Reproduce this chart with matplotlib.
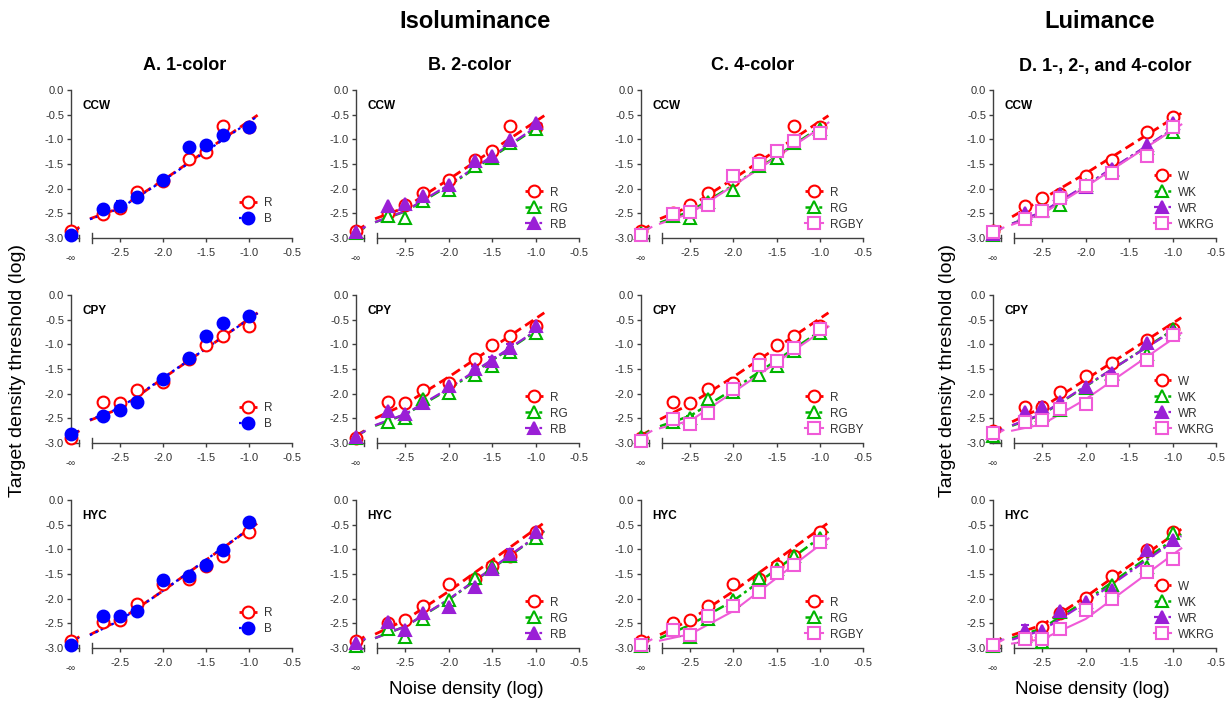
import numpy as np
import matplotlib
matplotlib.use("Agg")
import matplotlib.pyplot as plt

plt.rcParams['font.family'] = ['Liberation Sans', 'DejaVu Sans']

# ---------------- data ----------------
noise_abc = [-np.inf, -2.7, -2.5, -2.3, -2.0, -1.7, -1.5, -1.3, -1.0]
noise_d = [-np.inf, -2.7, -2.5, -2.3, -2.0, -1.7, -1.3, -1.0]
fit_noise = [-np.inf, -2.85, -2.5, -2.0, -0.9]
observers = ['CCW', 'CPY', 'HYC']

# Column A: 1-color
A_ccw_R = [-2.86, -2.52, -2.39, -2.07, -1.84, -1.40, -1.26, -0.73, -0.75]
A_ccw_R_err = [0, 0.03, 0.06, 0.03, 0.03, 0, 0.04, 0, 0.04]
A_ccw_B = [-2.94, -2.42, -2.35, -2.17, -1.82, -1.16, -1.11, -0.91, -0.75]
A_ccw_B_err = [0, 0.08, 0.10, 0.05, 0, 0, 0, 0, 0.05]
A_ccw_R_fit = [-2.88, -2.61, -2.39, -1.83, -0.51]
A_ccw_B_fit = [-2.90, -2.62, -2.40, -1.84, -0.53]

A_cpy_R = [-2.90, -2.16, -2.19, -1.92, -1.77, -1.29, -1.02, -0.84, -0.62]
A_cpy_R_err = [0, 0, 0.06, 0.06, 0, 0.07, 0, 0, 0]
A_cpy_B = [-2.81, -2.46, -2.33, -2.16, -1.71, -1.28, -0.84, -0.56, -0.42]
A_cpy_B_err = [0, 0.06, 0.05, 0.08, 0, 0.05, 0.08, 0, 0]
A_cpy_R_fit = [-2.85, -2.54, -2.30, -1.69, -0.36]
A_cpy_B_fit = [-2.84, -2.53, -2.29, -1.68, -0.37]

A_hyc_R = [-2.85, -2.48, -2.43, -2.10, -1.70, -1.60, -1.33, -1.13, -0.64]
A_hyc_R_err = [0, 0.07, 0.04, 0.05, 0.05, 0.07, 0.05, 0, 0]
A_hyc_B = [-2.93, -2.36, -2.36, -2.26, -1.62, -1.55, -1.31, -1.01, -0.44]
A_hyc_B_err = [0, 0.07, 0.05, 0.05, 0.07, 0.04, 0.06, 0.06, 0]
A_hyc_R_fit = [-2.87, -2.73, -2.43, -1.84, -0.47]
A_hyc_B_fit = [-2.88, -2.74, -2.44, -1.84, -0.46]

# Column B: 2-color
B_ccw_R = [-2.85, -2.50, -2.34, -2.08, -1.82, -1.41, -1.24, -0.72, -0.75]
B_ccw_R_err = [0, 0.03, 0.05, 0.04, 0.04, 0, 0.04, 0, 0.04]
B_ccw_RG = [-2.89, -2.55, -2.60, -2.26, -2.02, -1.54, -1.37, -1.07, -0.80]
B_ccw_RG_err = [0, 0, 0, 0, 0, 0, 0, 0, 0]
B_ccw_RB = [-2.88, -2.36, -2.31, -2.14, -1.93, -1.43, -1.33, -1.02, -0.66]
B_ccw_RB_err = [0, 0, 0, 0, 0, 0, 0, 0, 0]
B_ccw_R_fit = [-2.85, -2.61, -2.38, -1.81, -0.52]
B_ccw_RG_fit = [-2.89, -2.68, -2.46, -1.94, -0.66]
B_ccw_RB_fit = [-2.88, -2.68, -2.45, -1.92, -0.64]

B_cpy_R = [-2.89, -2.16, -2.18, -1.93, -1.78, -1.30, -1.01, -0.84, -0.62]
B_cpy_R_err = [0, 0, 0.06, 0.06, 0, 0.06, 0, 0, 0.04]
B_cpy_RG = [-2.89, -2.57, -2.50, -2.10, -1.98, -1.63, -1.43, -1.16, -0.77]
B_cpy_RG_err = [0, 0, 0, 0, 0, 0, 0, 0.08, 0.05]
B_cpy_RB = [-2.87, -2.35, -2.42, -2.18, -1.85, -1.50, -1.33, -1.07, -0.62]
B_cpy_RB_err = [0, 0, 0, 0, 0.07, 0.06, 0.08, 0.07, 0]
B_cpy_R_fit = [-2.85, -2.50, -2.21, -1.66, -0.36]
B_cpy_RG_fit = [-2.86, -2.65, -2.42, -1.91, -0.62]
B_cpy_RB_fit = [-2.86, -2.64, -2.41, -1.89, -0.61]

B_hyc_R = [-2.85, -2.49, -2.43, -2.14, -1.71, -1.60, -1.34, -1.13, -0.64]
B_hyc_R_err = [0, 0.06, 0, 0.05, 0, 0.07, 0.05, 0, 0]
B_hyc_RG = [-2.95, -2.62, -2.78, -2.41, -2.02, -1.58, -1.36, -1.13, -0.78]
B_hyc_RG_err = [0, 0, 0, 0, 0, 0, 0, 0, 0]
B_hyc_RB = [-2.90, -2.48, -2.64, -2.29, -2.16, -1.77, -1.40, -1.09, -0.64]
B_hyc_RB_err = [0, 0, 0, 0, 0, 0, 0, 0.10, 0.05]
B_hyc_R_fit = [-2.87, -2.72, -2.43, -1.85, -0.46]
B_hyc_RG_fit = [-2.93, -2.80, -2.56, -2.02, -0.63]
B_hyc_RB_fit = [-2.92, -2.80, -2.56, -2.01, -0.62]

# Column C: 4-color
C_ccw_R = [-2.85, -2.50, -2.34, -2.08, -1.82, -1.41, -1.25, -0.72, -0.74]
C_ccw_R_err = [0, 0.03, 0.05, 0.04, 0.04, 0, 0.04, 0, 0.04]
C_ccw_RG = [-2.89, -2.55, -2.60, -2.28, -2.02, -1.54, -1.37, -1.07, -0.79]
C_ccw_RG_err = [0, 0, 0, 0, 0, 0, 0, 0, 0]
C_ccw_RGBY = [-2.93, -2.51, -2.48, -2.33, -1.74, -1.51, -1.24, -1.04, -0.87]
C_ccw_RGBY_err = [0, 0, 0, 0, 0, 0, 0, 0, 0]
C_ccw_R_fit = [-2.85, -2.61, -2.36, -1.80, -0.52]
C_ccw_RG_fit = [-2.89, -2.69, -2.46, -1.93, -0.64]
C_ccw_RGBY_fit = [-2.90, -2.71, -2.50, -1.94, -0.66]

C_cpy_R = [-2.89, -2.16, -2.19, -1.91, -1.78, -1.29, -1.01, -0.84, -0.62]
C_cpy_R_err = [0, 0, 0.06, 0.06, 0, 0.05, 0, 0, 0]
C_cpy_RG = [-2.87, -2.57, -2.50, -2.10, -1.97, -1.63, -1.43, -1.14, -0.77]
C_cpy_RG_err = [0, 0, 0.05, 0, 0, 0, 0, 0.08, 0.05]
C_cpy_RGBY = [-2.95, -2.52, -2.62, -2.40, -1.91, -1.41, -1.34, -1.07, -0.69]
C_cpy_RGBY_err = [0, 0, 0, 0, 0, 0, 0, 0, 0]
C_cpy_R_fit = [-2.85, -2.52, -2.21, -1.66, -0.36]
C_cpy_RG_fit = [-2.86, -2.66, -2.45, -1.91, -0.62]
C_cpy_RGBY_fit = [-2.88, -2.70, -2.55, -1.97, -0.64]

C_hyc_R = [-2.85, -2.49, -2.43, -2.14, -1.71, -1.60, -1.34, -1.13, -0.64]
C_hyc_R_err = [0, 0.06, 0, 0.05, 0, 0.07, 0.05, 0, 0]
C_hyc_RG = [-2.95, -2.64, -2.78, -2.41, -2.02, -1.58, -1.40, -1.13, -0.78]
C_hyc_RG_err = [0, 0, 0, 0, 0, 0, 0, 0, 0]
C_hyc_RGBY = [-2.93, -2.63, -2.73, -2.36, -2.14, -1.87, -1.48, -1.31, -0.86]
C_hyc_RGBY_err = [0, 0, 0, 0, 0, 0, 0, 0, 0]
C_hyc_R_fit = [-2.87, -2.73, -2.43, -1.85, -0.46]
C_hyc_RG_fit = [-2.92, -2.80, -2.53, -2.04, -0.64]
C_hyc_RGBY_fit = [-2.95, -2.85, -2.72, -2.25, -0.78]

# Column D: luminance 1-, 2-, 4-color
D_ccw_W = [-2.86, -2.36, -2.19, -2.10, -1.74, -1.41, -0.86, -0.55]
D_ccw_W_err = [0, 0.05, 0.05, 0.05, 0.08, 0, 0, 0.04]
D_ccw_WK = [-2.93, -2.53, -2.43, -2.34, -1.93, -1.62, -1.17, -0.86]
D_ccw_WK_err = [0, 0, 0.05, 0, 0.05, 0.05, 0, 0]
D_ccw_WR = [-2.91, -2.50, -2.46, -2.11, -1.96, -1.61, -1.11, -0.67]
D_ccw_WR_err = [0, 0, 0, 0, 0, 0, 0, 0]
D_ccw_WKRG = [-2.88, -2.61, -2.46, -2.18, -1.94, -1.69, -1.33, -0.75]
D_ccw_WKRG_err = [0, 0, 0, 0, 0, 0, 0, 0]
D_ccw_W_fit = [-2.86, -2.57, -2.21, -1.69, -0.47]
D_ccw_WK_fit = [-2.90, -2.71, -2.48, -1.94, -0.69]
D_ccw_WR_fit = [-2.90, -2.71, -2.47, -1.93, -0.68]
D_ccw_WKRG_fit = [-2.91, -2.73, -2.51, -1.96, -0.70]

D_cpy_W = [-2.75, -2.28, -2.28, -1.97, -1.64, -1.38, -0.91, -0.69]
D_cpy_W_err = [0, 0.08, 0.07, 0, 0.07, 0.05, 0.05, 0.04]
D_cpy_WK = [-2.85, -2.50, -2.44, -2.34, -1.88, -1.61, -1.19, -0.69]
D_cpy_WK_err = [0, 0, 0, 0, 0, 0, 0, 0]
D_cpy_WR = [-2.80, -2.38, -2.27, -2.17, -1.86, -1.58, -0.97, -0.76]
D_cpy_WR_err = [0, 0.07, 0.10, 0, 0, 0, 0.05, 0]
D_cpy_WKRG = [-2.80, -2.57, -2.53, -2.32, -2.21, -1.73, -1.31, -0.81]
D_cpy_WKRG_err = [0, 0, 0, 0, 0.05, 0, 0, 0]
D_cpy_W_fit = [-2.78, -2.57, -2.28, -1.71, -0.46]
D_cpy_WK_fit = [-2.83, -2.65, -2.42, -1.85, -0.60]
D_cpy_WR_fit = [-2.83, -2.64, -2.41, -1.84, -0.62]
D_cpy_WKRG_fit = [-2.86, -2.75, -2.62, -2.11, -0.77]

D_hyc_W = [-2.93, -2.80, -2.58, -2.29, -1.99, -1.55, -1.01, -0.65]
D_hyc_W_err = [0, 0.05, 0, 0.08, 0.07, 0.04, 0.05, 0]
D_hyc_WK = [-2.95, -2.76, -2.87, -2.28, -2.12, -1.72, -1.35, -0.67]
D_hyc_WK_err = [0, 0, 0, 0, 0.06, 0, 0, 0]
D_hyc_WR = [-2.93, -2.63, -2.66, -2.26, -2.06, -1.82, -1.02, -0.81]
D_hyc_WR_err = [0, 0.10, 0, 0, 0, 0, 0, 0]
D_hyc_WKRG = [-2.93, -2.82, -2.82, -2.62, -2.23, -2.01, -1.45, -1.19]
D_hyc_WKRG_err = [0, 0, 0, 0, 0, 0, 0, 0]
D_hyc_W_fit = [-2.90, -2.74, -2.53, -1.96, -0.59]
D_hyc_WK_fit = [-2.92, -2.80, -2.60, -2.04, -0.69]
D_hyc_WR_fit = [-2.93, -2.83, -2.64, -2.08, -0.73]
D_hyc_WKRG_fit = [-2.95, -2.91, -2.82, -2.41, -0.98]

# ---------------- styles ----------------
RED = '#FF0000'
BLUE = '#0000FF'
GREEN = '#00B400'
PURPLE = '#9A1FD6'
PINK = '#F05AD8'

STY = {
    'R':    dict(color=RED, marker='o', mfc='white', dashes=(3.5, 1.8), lw=2.0),
    'W':    dict(color=RED, marker='o', mfc='white', dashes=(3.5, 1.8), lw=2.0),
    'B':    dict(color=BLUE, marker='o', mfc=BLUE, dashes=(1.2, 1.5), lw=1.6),
    'RG':   dict(color=GREEN, marker='^', mfc='white', dashes=(4, 1.5, 1.2, 1.5), lw=1.8),
    'WK':   dict(color=GREEN, marker='^', mfc='white', dashes=(4, 1.5, 1.2, 1.5), lw=1.8),
    'RB':   dict(color=PURPLE, marker='^', mfc=PURPLE, dashes=(5, 1.5, 1.2, 1.5), lw=1.6),
    'WR':   dict(color=PURPLE, marker='^', mfc=PURPLE, dashes=(5, 1.5, 1.2, 1.5), lw=1.6),
    'RGBY': dict(color=PINK, marker='s', mfc='white', dashes=None, lw=1.5),
    'WKRG': dict(color=PINK, marker='s', mfc='white', dashes=None, lw=1.5),
}
MS = 8.5

panels = {
    (0, 0): (noise_abc, [('R', A_ccw_R, A_ccw_R_err, A_ccw_R_fit), ('B', A_ccw_B, A_ccw_B_err, A_ccw_B_fit)]),
    (1, 0): (noise_abc, [('R', A_cpy_R, A_cpy_R_err, A_cpy_R_fit), ('B', A_cpy_B, A_cpy_B_err, A_cpy_B_fit)]),
    (2, 0): (noise_abc, [('R', A_hyc_R, A_hyc_R_err, A_hyc_R_fit), ('B', A_hyc_B, A_hyc_B_err, A_hyc_B_fit)]),
    (0, 1): (noise_abc, [('R', B_ccw_R, B_ccw_R_err, B_ccw_R_fit), ('RG', B_ccw_RG, B_ccw_RG_err, B_ccw_RG_fit), ('RB', B_ccw_RB, B_ccw_RB_err, B_ccw_RB_fit)]),
    (1, 1): (noise_abc, [('R', B_cpy_R, B_cpy_R_err, B_cpy_R_fit), ('RG', B_cpy_RG, B_cpy_RG_err, B_cpy_RG_fit), ('RB', B_cpy_RB, B_cpy_RB_err, B_cpy_RB_fit)]),
    (2, 1): (noise_abc, [('R', B_hyc_R, B_hyc_R_err, B_hyc_R_fit), ('RG', B_hyc_RG, B_hyc_RG_err, B_hyc_RG_fit), ('RB', B_hyc_RB, B_hyc_RB_err, B_hyc_RB_fit)]),
    (0, 2): (noise_abc, [('R', C_ccw_R, C_ccw_R_err, C_ccw_R_fit), ('RG', C_ccw_RG, C_ccw_RG_err, C_ccw_RG_fit), ('RGBY', C_ccw_RGBY, C_ccw_RGBY_err, C_ccw_RGBY_fit)]),
    (1, 2): (noise_abc, [('R', C_cpy_R, C_cpy_R_err, C_cpy_R_fit), ('RG', C_cpy_RG, C_cpy_RG_err, C_cpy_RG_fit), ('RGBY', C_cpy_RGBY, C_cpy_RGBY_err, C_cpy_RGBY_fit)]),
    (2, 2): (noise_abc, [('R', C_hyc_R, C_hyc_R_err, C_hyc_R_fit), ('RG', C_hyc_RG, C_hyc_RG_err, C_hyc_RG_fit), ('RGBY', C_hyc_RGBY, C_hyc_RGBY_err, C_hyc_RGBY_fit)]),
    (0, 3): (noise_d, [('W', D_ccw_W, D_ccw_W_err, D_ccw_W_fit), ('WK', D_ccw_WK, D_ccw_WK_err, D_ccw_WK_fit), ('WR', D_ccw_WR, D_ccw_WR_err, D_ccw_WR_fit), ('WKRG', D_ccw_WKRG, D_ccw_WKRG_err, D_ccw_WKRG_fit)]),
    (1, 3): (noise_d, [('W', D_cpy_W, D_cpy_W_err, D_cpy_W_fit), ('WK', D_cpy_WK, D_cpy_WK_err, D_cpy_WK_fit), ('WR', D_cpy_WR, D_cpy_WR_err, D_cpy_WR_fit), ('WKRG', D_cpy_WKRG, D_cpy_WKRG_err, D_cpy_WKRG_fit)]),
    (2, 3): (noise_d, [('W', D_hyc_W, D_hyc_W_err, D_hyc_W_fit), ('WK', D_hyc_WK, D_hyc_WK_err, D_hyc_WK_fit), ('WR', D_hyc_WR, D_hyc_WR_err, D_hyc_WR_fit), ('WKRG', D_hyc_WKRG, D_hyc_WKRG_err, D_hyc_WKRG_fit)]),
}

# ---------------- layout ----------------
W_PX, H_PX = 1225, 702
X_INF = -3.07          # where noise = -inf is drawn (broken axis)
AXC = '#404040'
TXT = '#333333'
col_left = [71, 356, 641, 993]
col_right = [292, 579, 863, 1216]
row_top = [90, 295, 500]
row_bot = [238, 443, 648]
leg_anchor = [(0.76, 0.085), (0.76, 0.05), (0.74, 0.05), (0.72, 0.05)]

fig = plt.figure(figsize=(W_PX / 100, H_PX / 100), dpi=100)


def xmap(v):
    a = np.asarray(v, dtype=float)
    return np.where(np.isneginf(a), X_INF, a)


for (r, c), (noise, series) in panels.items():
    l, rt = col_left[c], col_right[c]
    t, b = row_top[r], row_bot[r]
    ax = fig.add_axes([l / W_PX, 1 - b / H_PX, (rt - l) / W_PX, (b - t) / H_PX])
    ax.set_xlim(X_INF, -0.5)
    ax.set_ylim(-3.0, 0.0)
    for s in ['top', 'right', 'bottom']:
        ax.spines[s].set_visible(False)
    ax.spines['left'].set_color(AXC)
    ax.spines['left'].set_linewidth(1.0)

    # broken x axis
    ax.plot([X_INF, -2.98], [-3.0, -3.0], color=AXC, lw=1.0, clip_on=False)
    ax.plot([-2.98, -2.98], [-3.07, -2.93], color=AXC, lw=1.0, clip_on=False)
    ax.plot([-2.83, -0.5], [-3.0, -3.0], color=AXC, lw=1.0, clip_on=False)
    ax.plot([-2.83, -2.83], [-3.1, -2.9], color=AXC, lw=1.0, clip_on=False)

    ax.set_xticks([-2.5, -2.0, -1.5, -1.0, -0.5])
    ax.set_xticklabels(['-2.5', '-2.0', '-1.5', '-1.0', '-0.5'])
    ax.set_yticks(np.arange(-3.0, 0.01, 0.5))
    ax.set_yticklabels(['%.1f' % v for v in np.arange(-3.0, 0.01, 0.5)])
    ax.tick_params(axis='both', direction='out', length=3, width=1.0, color=AXC,
                   labelsize=8, labelcolor=TXT, pad=2)
    ax.tick_params(axis='x', pad=4)
    ax.annotate('-\u221e', xy=(X_INF, -3.0), xytext=(0, -11), textcoords='offset points',
                ha='center', va='top', fontsize=7, color=TXT, annotation_clip=False)

    ax.text(0.05, 0.89, observers[r], transform=ax.transAxes, fontsize=8.5,
            fontweight='bold', color='black', va='center')

    handles = []
    for name, y, err, fit in series:
        st = STY[name]
        xs = xmap(noise)
        fx = xmap(fit_noise)
        kw = dict(color=st['color'], lw=st['lw'], clip_on=False, zorder=2)
        ln1, = ax.plot([fx[0], fx[0] + 0.12], [fit[0], fit[0] + 0.12], **kw)
        ln2, = ax.plot(fx[1:], fit[1:], **kw)
        if st['dashes'] is not None:
            ln1.set_dashes(st['dashes'])
            ln2.set_dashes(st['dashes'])
        err_arr = np.asarray(err, dtype=float)
        m = err_arr > 0
        if m.any():
            ax.errorbar(xs[m], np.asarray(y)[m], yerr=err_arr[m], fmt='none',
                        ecolor=st['color'], elinewidth=1.5, capsize=3, capthick=1.5,
                        clip_on=False, zorder=3)
        ax.plot(xs, y, linestyle='none', marker=st['marker'], mfc=st['mfc'],
                mec=st['color'], mew=1.5, ms=MS, clip_on=False, zorder=4)
        h, = ax.plot([], [], color=st['color'], lw=st['lw'], marker=st['marker'],
                     mfc=st['mfc'], mec=st['color'], mew=1.5, ms=MS)
        if st['dashes'] is not None:
            h.set_dashes(st['dashes'])
        handles.append((h, name))

    leg = ax.legend([h for h, _ in handles], [n for _, n in handles], loc='lower left',
                    bbox_to_anchor=leg_anchor[c], frameon=False, fontsize=8.5,
                    handlelength=1.5, handletextpad=0.6, labelspacing=0.34,
                    borderaxespad=0.0, borderpad=0.0)
    for txt in leg.get_texts():
        txt.set_color(TXT)

# ---------------- titles and labels ----------------
fig.text(475 / W_PX, 1 - 22 / H_PX, 'Isoluminance', ha='center', va='center',
         fontsize=17, fontweight='bold')
fig.text(1100 / W_PX, 1 - 22 / H_PX, 'Luimance', ha='center', va='center',
         fontsize=17, fontweight='bold')
for xc, ttl in zip([185, 470, 753, 1105],
                   ['A. 1-color', 'B. 2-color', 'C. 4-color', 'D. 1-, 2-, and 4-color']):
    fig.text(xc / W_PX, 1 - 66 / H_PX, ttl, ha='center', va='center',
             fontsize=13, fontweight='bold')
for xc in [18, 948]:
    fig.text(xc / W_PX, 1 - 370 / H_PX, 'Target density threshold (log)', ha='center',
             va='center', rotation=90, fontsize=14)
for xc in [466, 1092]:
    fig.text(xc / W_PX, 1 - 690 / H_PX, 'Noise density (log)', ha='center',
             va='center', fontsize=13.5)

fig.savefig('out.png', dpi=100)
